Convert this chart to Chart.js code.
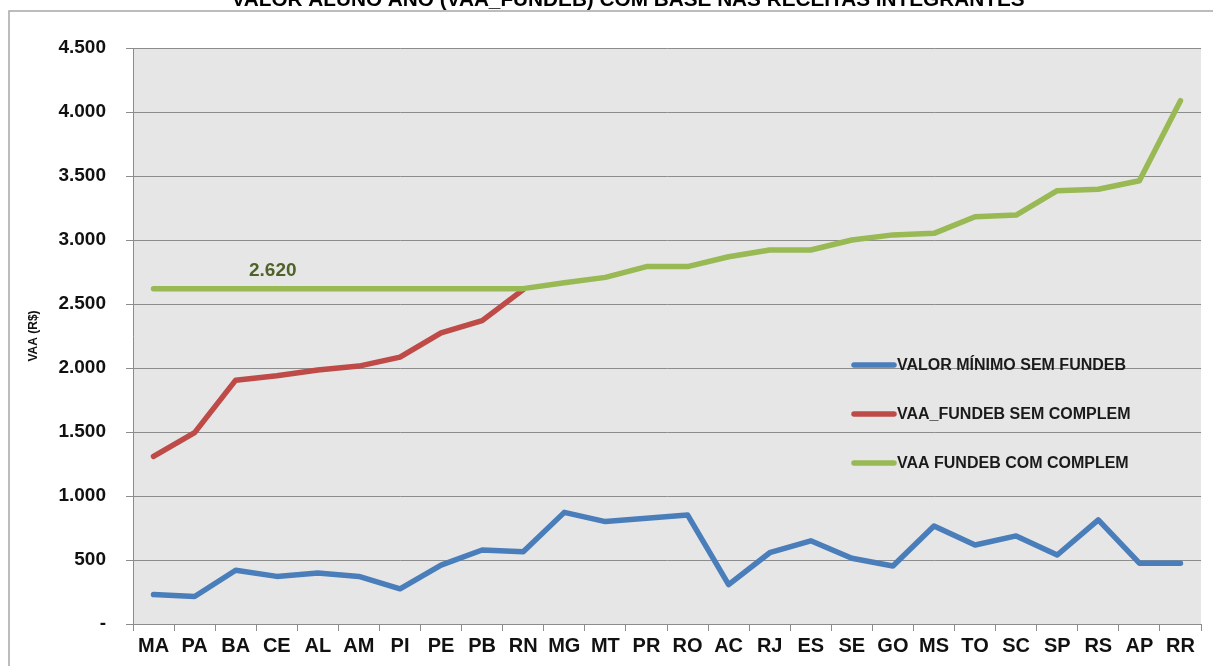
<!DOCTYPE html>
<html><head><meta charset="utf-8">
<script src="https://cdn.jsdelivr.net/npm/chart.js@4.4.1/dist/chart.umd.min.js"></script>
<style>html,body{margin:0;padding:0;background:#fff;overflow:hidden}canvas{display:block}</style>
</head><body>
<canvas id="c" width="1213" height="666"></canvas>
<script>
const titleText = 'VALOR ALUNO ANO (VAA_FUNDEB) COM BASE NAS RECEITAS INTEGRANTES';
const yAxisTitle = 'VAA (R$)';
const categories = ['MA','PA','BA','CE','AL','AM','PI','PE','PB','RN','MG','MT','PR','RO','AC','RJ','ES','SE','GO','MS','TO','SC','SP','RS','AP','RR'];
const seriesLabels = ['VALOR MÍNIMO SEM FUNDEB','VAA_FUNDEB SEM COMPLEM','VAA FUNDEB COM COMPLEM'];
const valorMinimo = [230,215,420,372,398,372,275,460,578,565,872,800,826,852,308,557,650,514,453,766,617,688,539,813,475,475];
// beyond RN this series is hidden under the green line in the picture
const vaaSemComplem = [1310,1495,1905,1940,1985,2015,2085,2275,2370,2612,null,null,null,null,null,null,null,null,null,null,null,null,null,null,null,null];
const vaaComComplem = [2620,2620,2620,2620,2620,2620,2620,2620,2620,2620,2666,2708,2792,2792,2869,2922,2922,3000,3040,3052,3182,3195,3385,3396,3463,4088];
const yMin = 0, yMax = 4500, yStep = 500;
const pisoValor = 2620;
const seriesColors = ['#4A7EBB','#BE4B48','#98B954'];

function fmt(v){ return v === 0 ? '-' : String(v).replace(/\B(?=(\d{3})+(?!\d))/g,'.'); }

const decor = {
  id:'decor',
  beforeDraw(chart){
    const {ctx, chartArea:a} = chart;
    ctx.save();
    ctx.fillStyle = '#fff';
    ctx.fillRect(0,0,chart.width,chart.height);
    ctx.strokeStyle = '#A6A6A6'; ctx.lineWidth = 1.5;
    ctx.beginPath(); ctx.moveTo(9, chart.height); ctx.lineTo(9, 11); ctx.lineTo(chart.width, 11); ctx.stroke();
    ctx.fillStyle = '#000';
    ctx.font = 'bold 100px "Liberation Sans", Arial, sans-serif';
    const w100 = ctx.measureText(titleText).width;
    const fs = 100 * 793 / w100;
    ctx.font = 'bold ' + fs.toFixed(2) + 'px "Liberation Sans", Arial, sans-serif';
    ctx.textAlign = 'center'; ctx.textBaseline = 'alphabetic';
    ctx.fillText(titleText, 628, 6);
    ctx.fillStyle = '#E6E6E6';
    ctx.fillRect(a.left, a.top, a.right - a.left, a.bottom - a.top);
    ctx.restore();
  },
  afterDatasetsDraw(chart){
    const {ctx} = chart;
    const xs = chart.scales.x, ys = chart.scales.y;
    ctx.save();
    ctx.fillStyle = '#4F6228';
    ctx.font = 'bold 19px "Liberation Sans", Arial, sans-serif';
    ctx.textAlign = 'center'; ctx.textBaseline = 'middle';
    ctx.fillText(fmt(pisoValor), xs.getPixelForValue(3) - 4, ys.getPixelForValue(pisoValor) - 18);
    const rows = [365, 414, 463];
    chart.data.datasets.forEach((ds, i) => {
      ctx.strokeStyle = ds.borderColor; ctx.lineWidth = 5.5; ctx.lineCap = 'round';
      ctx.beginPath(); ctx.moveTo(854, rows[i]); ctx.lineTo(894, rows[i]); ctx.stroke();
      ctx.fillStyle = '#1a1a1a';
      ctx.font = 'bold 16px "Liberation Sans", Arial, sans-serif';
      ctx.textAlign = 'left'; ctx.textBaseline = 'middle';
      ctx.fillText(ds.label, 897, rows[i] + 1);
    });
    ctx.restore();
  }
};

const dataArrays = [valorMinimo, vaaSemComplem, vaaComComplem];
new Chart(document.getElementById('c'), {
  type:'line',
  data:{
    labels: categories,
    datasets: dataArrays.map((d,i)=>({
      label: seriesLabels[i], data: d,
      borderColor: seriesColors[i], backgroundColor: seriesColors[i],
      borderWidth: 5.5, pointRadius: 0, tension: 0,
      borderCapStyle:'round', borderJoinStyle:'round',
      order: [2,1,0][i]
    }))
  },
  options:{
    responsive:false, animation:false,
    layout:{padding:{left:22, top:48, right:12, bottom:0}},
    plugins:{legend:{display:false}, tooltip:{enabled:false}, title:{display:false}},
    scales:{
      x:{
        offset:true,
        grid:{offset:true, drawOnChartArea:false, drawTicks:true, tickLength:7, color:'#8C8C8C'},
        border:{color:'#8C8C8C', width:1},
        ticks:{autoSkip:false, maxRotation:0, padding:3, color:'#111', font:{family:'"Liberation Sans", Arial, sans-serif', size:20, weight:'bold'}},
        afterFit(s){ s.height = 42; }
      },
      y:{
        min:yMin, max:yMax,
        grid:{color:'#8C8C8C', lineWidth:1, tickLength:7},
        border:{color:'#8C8C8C', width:1},
        ticks:{stepSize:yStep, padding:20, color:'#111', callback:(v)=>fmt(v), font:{family:'"Liberation Sans", Arial, sans-serif', size:19, weight:'bold'}},
        title:{display:true, text:yAxisTitle, color:'#111', padding:{top:4,bottom:0}, font:{family:'"Liberation Sans", Arial, sans-serif', size:12, weight:'bold'}},
        afterFit(s){ s.width = 111; }
      }
    }
  },
  plugins:[decor]
});
</script>
</body></html>
